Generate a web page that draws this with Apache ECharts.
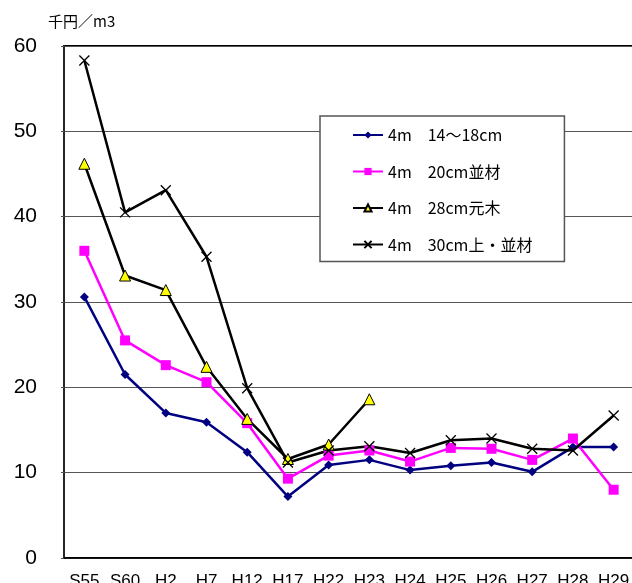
<!DOCTYPE html>
<html><head><meta charset="utf-8">
<script src="https://cdn.jsdelivr.net/npm/echarts@6/dist/echarts.min.js"></script>
<style>html,body{margin:0;padding:0;background:#fff}#c{width:632px;height:583px}</style>
</head><body><div id="c"></div>
<script>
const categories = ['S55','S60','H2','H7','H12','H17','H22','H23','H24','H25','H26','H27','H28','H29'];
const yTicks = [0,10,20,30,40,50,60];
const unitLabel = '千円／m3';
const names = ['4m　14～18cm','4m　20cm並材','4m　28cm元木','4m　30cm上・並材'];
const s14_18 = [30.6,21.5,17.0,15.9,12.4,7.2,10.9,11.5,10.3,10.8,11.2,10.1,13.0,13.0];
const s20 = [36.0,25.5,22.6,20.6,15.8,9.3,12.0,12.6,11.3,12.9,12.8,11.5,14.0,8.0];
const s28 = [46.2,33.1,31.4,22.4,16.3,11.6,13.3,18.6,null,null,null,null,null,null];
const s30 = [58.3,40.5,43.1,35.3,19.9,11.2,12.6,13.1,12.3,13.8,14.0,12.8,12.6,16.7];

const chart = echarts.init(document.getElementById('c'));
const crossPath = 'path://M0,0L10,10M10,0L0,10';
chart.setOption({
  animation:false,
  textStyle:{fontFamily:'"Noto Sans CJK JP", sans-serif'},
  title:{text:unitLabel,left:43,top:9,textStyle:{fontSize:15,fontWeight:'normal',color:'#000',fontFamily:'"Noto Sans CJK JP"'}},
  grid:{left:64,right:-2,top:46,bottom:25,outerBoundsMode:'none',containLabel:false,show:true,borderColor:'#000',borderWidth:2,backgroundColor:'transparent'},
  legend:{
    orient:'vertical',left:320,top:116,
    backgroundColor:'#fff',borderColor:'#555',borderWidth:1.5,
    padding:[8,32,6,32],itemWidth:30,itemHeight:9,itemGap:14.5,
    textStyle:{fontSize:16,color:'#000',fontFamily:'"Noto Sans CJK JP"',lineHeight:22},
    data:names
  },
  xAxis:{type:'category',data:categories,boundaryGap:true,
    axisLine:{lineStyle:{color:'#000',width:1.5}},
    axisTick:{inside:true,length:5,lineStyle:{color:'#000'}},
    axisLabel:{fontSize:17,color:'#000',margin:15,interval:0,fontFamily:'"Liberation Sans", Arial'}
  },
  yAxis:{type:'value',min:yTicks[0],max:yTicks[yTicks.length-1],interval:10,
    axisLine:{show:true,lineStyle:{color:'#333',width:1.5}},
    axisTick:{show:true,length:3,lineStyle:{color:'#555'}},
    axisLabel:{fontSize:21,color:'#000',margin:27,fontFamily:'"Liberation Sans", Arial',padding:[2,0,0,0]},
    splitLine:{show:true,lineStyle:{color:'#555',width:1.2}}
  },
  series:[
    {name:names[0],type:'line',data:s14_18,symbol:'diamond',symbolSize:9,
      lineStyle:{color:'#000080',width:2.5},itemStyle:{color:'#000080'}},
    {name:names[1],type:'line',data:s20,symbol:'rect',symbolSize:10,
      lineStyle:{color:'#ff00ff',width:2.5},itemStyle:{color:'#ff00ff'}},
    {name:names[2],type:'line',data:s28,symbol:'triangle',symbolSize:11,connectNulls:false,
      lineStyle:{color:'#000',width:2.5},itemStyle:{color:'#ffff00',borderColor:'#000',borderWidth:1}},
    {name:names[3],type:'line',data:s30,symbol:crossPath,symbolSize:10,
      lineStyle:{color:'#000',width:2.5},itemStyle:{color:'none',borderColor:'#000',borderWidth:1.3}}
  ]
});
</script></body></html>
